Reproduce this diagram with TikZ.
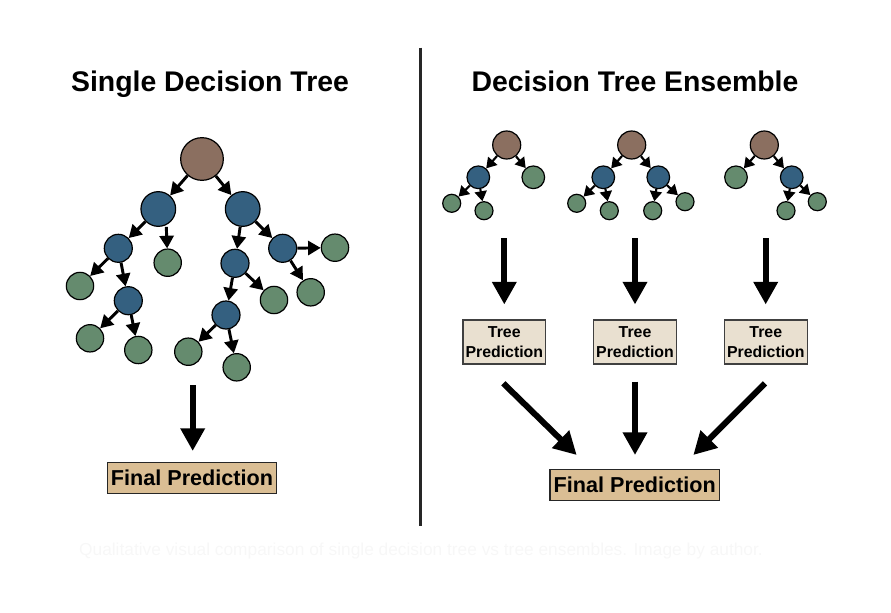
\documentclass[tikz,border=0pt]{standalone}
\usepackage{fontspec}
\setmainfont{Liberation Sans}
\usetikzlibrary{arrows.meta,positioning}

\definecolor{rootbrown}{RGB}{139,111,96}
\definecolor{splitblue}{RGB}{52,96,128}
\definecolor{leafgreen}{RGB}{101,139,110}
\definecolor{finaltan}{RGB}{218,190,148}
\definecolor{treetan}{RGB}{233,224,208}

\begin{document}
\begin{tikzpicture}[
    x=0.75pt, y=-0.75pt,
    dot/.style={circle, draw=black, line width=0.9pt, inner sep=0pt},
    root/.style={dot, fill=rootbrown, minimum size=32pt},
    split/.style={dot, fill=splitblue, minimum size=26pt},
    leaf/.style={dot, fill=leafgreen, minimum size=20.5pt},
    sroot/.style={dot, fill=rootbrown, minimum size=21pt},
    ssplit/.style={dot, fill=splitblue, minimum size=17pt},
    sleaf/.style={dot, fill=leafgreen, minimum size=17pt},
    tleaf/.style={dot, fill=leafgreen, minimum size=13.5pt},
    title/.style={font=\bfseries\fontsize{21.3}{25}\selectfont, anchor=base},
    finalbox/.style={draw=black!85, line width=1.1pt, fill=finaltan, minimum width=127pt,
        minimum height=23pt, inner sep=0pt, font=\bfseries\fontsize{16.2}{19}\selectfont},
    treebox/.style={draw=black!75, line width=0.9pt, fill=treetan, minimum width=62pt,
        minimum height=33pt, inner sep=0pt, align=center, font=\bfseries\fontsize{11.9}{15}\selectfont},
    edge/.style={-{Triangle[length=9.5pt,width=10.5pt]}, line width=2.2pt},
    sedge/.style={-{Triangle[length=7.5pt,width=9pt]}, line width=1.6pt},
    bigarrow/.style={-{Triangle[length=17pt,width=17.5pt]}, line width=4.5pt}
]
\useasboundingbox (0,0) rectangle (891,613);

% titles and divider
\node[title] (lt) at (210,91.7) {Single Decision Tree};
\node[title] (rt) at (635,91.7) {Decision Tree Ensemble};
\coordinate (divtop) at (420.7,47.7);
\coordinate (divbot) at (420.7,525.7);
\draw[line width=1.9pt, black!85] (divtop) -- (divbot);

% single tree
\node[root] (r) at (202,159) {};
\node[split] (a) at (158.3,209) {};
\node[split] (b) at (242.7,209) {};
\node[split, minimum size=21pt] (a1) at (118.3,248.3) {};
\node[leaf] (a2) at (167.7,262.7) {};
\node[leaf] (a11) at (80,286) {};
\node[split, minimum size=21pt] (a12) at (128.3,300.7) {};
\node[leaf] (a121) at (90,338.3) {};
\node[leaf] (a122) at (138.3,350) {};
\node[split, minimum size=21pt] (b1) at (235,263.3) {};
\node[split, minimum size=21pt] (b2) at (282.7,248.3) {};
\node[split, minimum size=21pt] (b11) at (226,315) {};
\node[leaf] (b12) at (274,300) {};
\node[leaf] (b21) at (335,247.7) {};
\node[leaf] (b22) at (310.7,292.3) {};
\node[leaf] (b111) at (188.3,351.7) {};
\node[leaf] (b112) at (236.7,367.3) {};

\draw[edge] (r) -- (a);
\draw[edge] (r) -- (b);
\draw[edge] (a) -- (a1);
\draw[edge] ([xshift=6pt]a.south) -- (a2);
\draw[edge] (a1) -- (a11);
\draw[edge] (a1) -- (a12);
\draw[edge] (a12) -- (a121);
\draw[edge] (a12) -- (a122);
\draw[edge] (b) -- (b1);
\draw[edge] (b) -- (b2);
\draw[edge] (b1) -- (b11);
\draw[edge] (b1) -- (b12);
\draw[edge] (b2) -- (b21);
\draw[edge] (b2) -- (b22);
\draw[edge] (b11) -- (b111);
\draw[edge] (b11) -- (b112);

\node[finalbox] (fl) at (192,478) {Final Prediction};
\coordinate (fls) at (192.7,385);
\coordinate (fle) at (192.7,451);
\draw[bigarrow] (fls) -- (fle);

% ensemble: tree 1
\node[sroot] (t1r) at (506.7,145) {};
\node[ssplit] (t1a) at (478.3,177.3) {};
\node[sleaf] (t1b) at (533.3,177.3) {};
\node[tleaf] (t1a1) at (451.7,203.3) {};
\node[tleaf] (t1a2) at (484,210.7) {};
\draw[sedge] (t1r) -- (t1a);
\draw[sedge] (t1r) -- (t1b);
\draw[sedge] (t1a) -- (t1a1);
\draw[sedge] (t1a) -- (t1a2);

% ensemble: tree 2
\node[sroot] (t2r) at (631.7,145) {};
\node[ssplit] (t2a) at (603.3,177.3) {};
\node[ssplit] (t2b) at (658.3,177.3) {};
\node[tleaf] (t2a1) at (576.7,203.3) {};
\node[tleaf] (t2a2) at (609.3,210.7) {};
\node[tleaf] (t2b1) at (652.7,210.7) {};
\node[tleaf] (t2b2) at (685,201.7) {};
\draw[sedge] (t2r) -- (t2a);
\draw[sedge] (t2r) -- (t2b);
\draw[sedge] (t2a) -- (t2a1);
\draw[sedge] (t2a) -- (t2a2);
\draw[sedge] (t2b) -- (t2b1);
\draw[sedge] (t2b) -- (t2b2);

% ensemble: tree 3
\node[sroot] (t3r) at (764.3,145) {};
\node[sleaf] (t3a) at (736,177.3) {};
\node[ssplit] (t3b) at (791.7,177.3) {};
\node[tleaf] (t3b1) at (786,210.7) {};
\node[tleaf] (t3b2) at (817.3,201.7) {};
\draw[sedge] (t3r) -- (t3a);
\draw[sedge] (t3r) -- (t3b);
\draw[sedge] (t3b) -- (t3b1);
\draw[sedge] (t3b) -- (t3b2);

% tree predictions
\node[treebox] (p1) at (504.3,342) {Tree\\Prediction};
\node[treebox] (p2) at (635,342) {Tree\\Prediction};
\node[treebox] (p3) at (765.8,342) {Tree\\Prediction};
\coordinate (v1s) at (504.3,238);
\coordinate (v1e) at (504.3,304.5);
\coordinate (v2s) at (635,238);
\coordinate (v2e) at (635,304.5);
\coordinate (v3s) at (765.7,238);
\coordinate (v3e) at (765.7,304.5);
\draw[bigarrow] (v1s) -- (v1e);
\draw[bigarrow] (v2s) -- (v2e);
\draw[bigarrow] (v3s) -- (v3e);

\node[finalbox] (fr) at (634.7,485) {Final Prediction};
\coordinate (d1s) at (503.3,383.3);
\coordinate (d1e) at (576.7,455);
\coordinate (d2s) at (635,381.7);
\coordinate (d2e) at (635,455);
\coordinate (d3s) at (765,383.3);
\coordinate (d3e) at (693.3,455);
\draw[bigarrow] (d1s) -- (d1e);
\draw[bigarrow] (d2s) -- (d2e);
\draw[bigarrow] (d3s) -- (d3e);

% faint caption
\node[text=black!3, font=\fontsize{13}{15}\selectfont] (cap) at (421,551)
    {Qualitative visual comparison of single decision tree vs tree ensembles. Image by author.};
\end{tikzpicture}
\end{document}
